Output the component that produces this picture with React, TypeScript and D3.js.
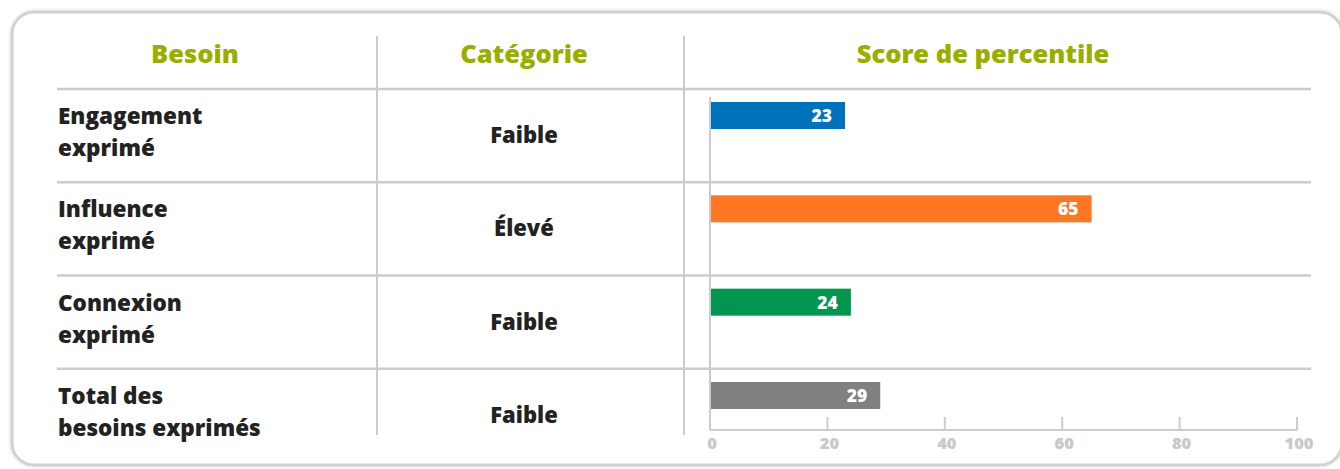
import React from "react"
import * as d3 from "d3"

const W = 1340
const H = 469

const HEADERS = ["Besoin", "Catégorie", "Score de percentile"]
const NEEDS = [
  ["Engagement", "exprimé"],
  ["Influence", "exprimé"],
  ["Connexion", "exprimé"],
  ["Total des", "besoins exprimés"],
]
const CATEGORIES = ["Faible", "Élevé", "Faible", "Faible"]
const SCORES = [23, 65, 24, 29]
const BAR_COLORS = ["#0072bc", "#ff7623", "#00964f", "#808080"]
const TICKS = [0, 20, 40, 60, 80, 100]

const FONT = "'Open Sans', 'DejaVu Sans', sans-serif"
const GRID = "#cccccc"
const HEAD = "#9aad00"
const INK = "#222222"

export default function App() {
  const keys = NEEDS.map((_, i) => String(i))

  // table rows
  const row = d3.scaleBand<string>().domain(keys).range([89, 462]).padding(0)
  // bars inside the score column
  const y = d3
    .scaleBand<string>()
    .domain(keys)
    .range([102, 409])
    .paddingInner(0.7107)
    .paddingOuter(0)
  const x = d3.scaleLinear().domain([0, 100]).range([710, 1297])

  const axisY = 430
  const colX = [195, 524, 983]

  return (
    <svg
      width={W}
      height={H}
      style={{ position: "absolute", left: 0, top: 0, background: "#fff" }}
      fontFamily={FONT}
    >
      <defs>
        <filter id="cardShadow" x="-5%" y="-5%" width="110%" height="110%">
          <feDropShadow dx="0" dy="0" stdDeviation="1.5" floodColor="#000" floodOpacity="0.18" />
        </filter>
      </defs>
      <rect
        x={12}
        y={12}
        width={1330}
        height={453}
        rx={22}
        fill="#fff"
        stroke="#d2d2d2"
        strokeWidth={3}
        filter="url(#cardShadow)"
      />

      {/* headers */}
      {HEADERS.map((h, i) => (
        <text
          key={h}
          x={colX[i]}
          y={63}
          textAnchor="middle"
          fill={HEAD}
          fontSize={25.5}
          fontWeight={800}
        >
          {h}
        </text>
      ))}

      {/* column separators */}
      {[377, 684].map(cx => (
        <line key={cx} x1={cx} x2={cx} y1={36} y2={435} stroke={GRID} strokeWidth={2} />
      ))}

      {/* row separators */}
      {keys.map(k => (
        <line
          key={k}
          x1={57}
          x2={1311}
          y1={row(k)!}
          y2={row(k)!}
          stroke={GRID}
          strokeWidth={2.5}
        />
      ))}

      {/* row labels and categories */}
      {keys.map((k, i) => (
        <g key={k}>
          <text x={58} y={row(k)! + 35} fill={INK} fontSize={22.5} fontWeight={800}>
            {NEEDS[i][0]}
          </text>
          <text x={58} y={row(k)! + 67} fill={INK} fontSize={22.5} fontWeight={800}>
            {NEEDS[i][1]}
          </text>
          <text
            x={colX[1]}
            y={row(k)! + 54}
            textAnchor="middle"
            fill={INK}
            fontSize={22}
            fontWeight={800}
          >
            {CATEGORIES[i]}
          </text>
        </g>
      ))}

      {/* bars */}
      {keys.map((k, i) => (
        <g key={k}>
          <rect
            x={x(0)}
            y={y(k)!}
            width={x(SCORES[i]) - x(0)}
            height={y.bandwidth()}
            fill={BAR_COLORS[i]}
          />
          <text
            x={x(SCORES[i]) - 13}
            y={y(k)! + y.bandwidth() / 2 + 6.5}
            textAnchor="end"
            fill="#fff"
            fontSize={17.5}
            fontWeight={800}
          >
            {SCORES[i]}
          </text>
        </g>
      ))}

      {/* axes */}
      <line x1={x(0)} x2={x(0)} y1={97} y2={axisY} stroke={GRID} strokeWidth={2} />
      <line x1={x(0)} x2={x(100)} y1={axisY} y2={axisY} stroke={GRID} strokeWidth={2} />
      {TICKS.map(t => (
        <g key={t}>
          <line x1={x(t)} x2={x(t)} y1={axisY - 13} y2={axisY} stroke={GRID} strokeWidth={2} />
          <text
            x={x(t) + 2}
            y={449}
            textAnchor="middle"
            fill="#c8c8c8"
            fontSize={16.5}
            fontWeight={800}
          >
            {t}
          </text>
        </g>
      ))}
    </svg>
  )
}
